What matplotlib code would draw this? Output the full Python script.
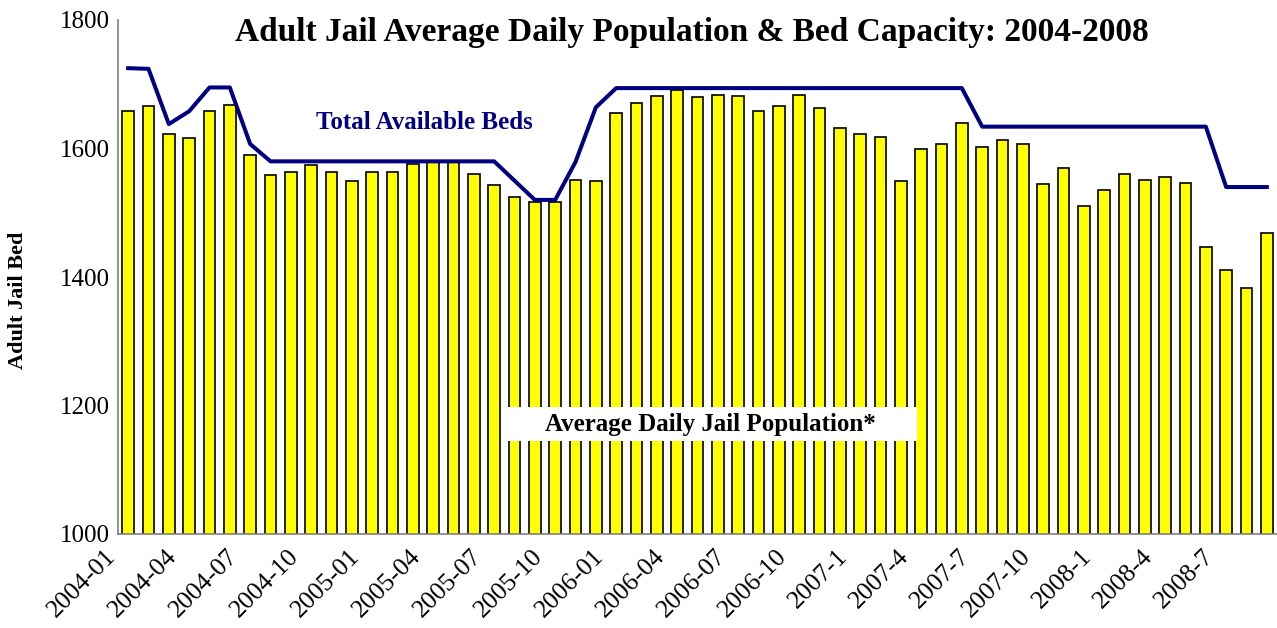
import matplotlib
matplotlib.use("Agg")
import matplotlib.pyplot as plt
from matplotlib.patches import Rectangle
from matplotlib.transforms import ScaledTranslation
import numpy as np

plt.rcParams["font.family"] = ["Liberation Serif", "DejaVu Serif"]

# monthly series, 2004-01 .. 2008-09
population = [1658, 1666, 1623, 1617, 1659, 1668, 1590, 1558, 1564, 1574, 1564, 1549,
              1564, 1564, 1576, 1579, 1579, 1560, 1543, 1525, 1516, 1516, 1551, 1549,
              1655, 1671, 1681, 1691, 1680, 1684, 1681, 1659, 1666, 1684, 1663, 1632,
              1623, 1618, 1549, 1599, 1607, 1639, 1603, 1614, 1607, 1545, 1570, 1511,
              1535, 1560, 1551, 1556, 1547, 1446, 1411, 1383, 1469]
capacity = [1725, 1724, 1638, 1658, 1695, 1695, 1607, 1580, 1580, 1580, 1580, 1580,
            1580, 1580, 1580, 1580, 1580, 1580, 1580, 1550, 1520, 1520, 1579, 1664,
            1694, 1694, 1694, 1694, 1694, 1694, 1694, 1694, 1694, 1694, 1694, 1694,
            1694, 1694, 1694, 1694, 1694, 1694, 1634, 1634, 1634, 1634, 1634, 1634,
            1634, 1634, 1634, 1634, 1634, 1634, 1540, 1540, 1540]
tick_labels = ["2004-01", "2004-04", "2004-07", "2004-10", "2005-01", "2005-04", "2005-07",
               "2005-10", "2006-01", "2006-04", "2006-07", "2006-10", "2007-1", "2007-4",
               "2007-7", "2007-10", "2008-1", "2008-4", "2008-7"]

NAVY = "#000080"
x = np.arange(len(population))

fig = plt.figure(figsize=(12.77, 6.28), dpi=100)
ax = fig.add_axes([118 / 1277, (628 - 534) / 628, 1159 / 1277, 514 / 628])

ax.bar(x, population, width=0.58, color="#FFFF00", edgecolor="black", lw=1.2, zorder=2)
ax.plot(x, capacity, color=NAVY, lw=2.9, zorder=3)

ax.set_xlim(-0.5, len(population) - 0.5)
ax.set_ylim(1000, 1800)
ax.set_yticks([1000, 1200, 1400, 1600, 1800])
ax.set_xticks(x[::3])
ax.set_xticklabels(tick_labels, rotation=45, ha="right", va="top", rotation_mode="anchor")
ax.tick_params(axis="both", length=0)
ax.tick_params(axis="y", pad=6, labelsize=18)
ax.tick_params(axis="x", pad=8, labelsize=18.5)
shift = ScaledTranslation(-24 / 100, 0, fig.dpi_scale_trans)
for lab in ax.get_xticklabels():
    lab.set_transform(lab.get_transform() + shift)

for s in ("top", "right"):
    ax.spines[s].set_visible(False)
for s in ("left", "bottom"):
    ax.spines[s].set_color("#808080")
    ax.spines[s].set_linewidth(1.2)

ax.set_ylabel("Adult Jail Bed", fontsize=16, fontweight="bold")
ax.yaxis.set_label_coords(-0.078, 0.455)

fig.text(692 / 1277, 1 - 33 / 628, "Adult Jail Average Daily Population & Bed Capacity: 2004-2008",
         ha="center", va="center", fontsize=24, fontweight="bold")

ax.text(0.264, 0.800, "Total Available Beds", transform=ax.transAxes, ha="center", va="center",
        fontsize=18, fontweight="bold", color=NAVY, zorder=5)

ax.add_patch(Rectangle((0.334, 0.181), 0.355, 0.066, transform=ax.transAxes,
                       facecolor="white", edgecolor="none", zorder=4))
ax.text(0.511, 0.214, "Average Daily Jail Population*", transform=ax.transAxes,
        ha="center", va="center", fontsize=18, fontweight="bold", color="black", zorder=5)

fig.savefig("out.png", dpi=100)
